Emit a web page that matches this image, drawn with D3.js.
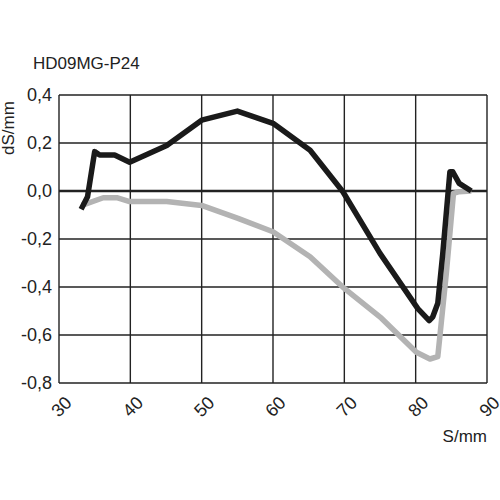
<!DOCTYPE html>
<html>
<head>
<meta charset="utf-8">
<script src="https://cdn.jsdelivr.net/npm/d3@7"></script>
<style>body{margin:0;background:#fff;}</style>
</head>
<body>
<div class="chart"></div>
<script>
var svgWidth = 500, svgHeight = 500;
var margin = {top: 95, right: 13, bottom: 117, left: 59};
var chartWidth = svgWidth - margin.left - margin.right;
var chartHeight = svgHeight - margin.top - margin.bottom;

// black curve
var blackX = [33.1, 34.0, 35.0, 35.7, 37.8, 39.9, 45.1, 50.0, 55.0, 60.0, 65.2, 69.8, 75.0, 80.3, 81.9, 82.4, 83.1, 83.8, 84.8, 85.2, 86.1, 87.8];
var blackY = [-0.076, -0.024, 0.164, 0.15, 0.15, 0.12, 0.19, 0.295, 0.333, 0.282, 0.17, -0.003, -0.26, -0.49, -0.54, -0.524, -0.468, -0.26, 0.08, 0.08, 0.032, 0.0];
// gray curve
var grayX = [33.2, 36.2, 38.1, 39.9, 45.1, 50.0, 55.1, 60.0, 65.2, 70.0, 75.2, 80.1, 82.0, 83.1, 84.3, 85.3, 86.1, 87.8];
var grayY = [-0.06, -0.028, -0.028, -0.044, -0.044, -0.06, -0.114, -0.17, -0.274, -0.406, -0.53, -0.672, -0.70, -0.69, -0.343, -0.01, -0.003, 0.0];

var xTicks = [30, 40, 50, 60, 70, 80, 90];
var yTicks = [-0.8, -0.6, -0.4, -0.2, 0.0, 0.2, 0.4];

var svg = d3.select(".chart").append("svg")
  .attr("width", svgWidth).attr("height", svgHeight)
  .style("font-family", "Arial, 'Liberation Sans', sans-serif");

var g = svg.append("g").attr("transform", `translate(${margin.left}, ${margin.top})`);

var x = d3.scaleLinear().domain([30, 90]).range([0, chartWidth]);
var y = d3.scaleLinear().domain([-0.8, 0.4]).range([chartHeight, 0]);

// grid
g.selectAll(".vg").data(xTicks).enter().append("line")
  .attr("x1", d => x(d)).attr("x2", d => x(d)).attr("y1", 0).attr("y2", chartHeight)
  .attr("stroke", "#222").attr("stroke-width", 1.4);
g.selectAll(".hg").data(yTicks).enter().append("line")
  .attr("x1", 0).attr("x2", chartWidth).attr("y1", d => y(d)).attr("y2", d => y(d))
  .attr("stroke", "#222").attr("stroke-width", d => d === 0 ? 2.5 : 1.4);

// tick labels
g.selectAll(".yl").data(yTicks).enter().append("text")
  .attr("x", -7).attr("y", d => y(d)).attr("dy", "0.35em")
  .attr("text-anchor", "end").attr("font-size", 18).attr("fill", "#222")
  .text(d => d3.format(".1f")(d).replace(".", ",").replace("−", "-"));
g.selectAll(".xl").data(xTicks).enter().append("text")
  .attr("transform", d => `translate(${x(d) + 5}, ${chartHeight + 12}) rotate(-45)`)
  .attr("text-anchor", "end").attr("dy", "0.7em").attr("font-size", 18).attr("fill", "#222")
  .text(d => d);

svg.append("text").attr("x", 487).attr("y", 442).attr("text-anchor", "end")
  .attr("font-size", 17).attr("fill", "#222").text("S/mm");
svg.append("text").attr("transform", "translate(14, 128) rotate(-90)")
  .attr("text-anchor", "middle").attr("font-size", 17).attr("fill", "#222").text("dS/mm");
svg.append("text").attr("x", 33).attr("y", 69)
  .attr("font-size", 17).attr("fill", "#222").text("HD09MG-P24");

var line = d3.line().x(d => x(d[0])).y(d => y(d[1]));

g.append("path").datum(d3.zip(grayX, grayY)).attr("d", line)
  .attr("fill", "none").attr("stroke", "#b3b3b3").attr("stroke-width", 5.5).attr("stroke-linejoin", "round");
g.append("path").datum(d3.zip(blackX, blackY)).attr("d", line)
  .attr("fill", "none").attr("stroke", "#1a1a1a").attr("stroke-width", 5.5).attr("stroke-linejoin", "round");
</script>
</body>
</html>
